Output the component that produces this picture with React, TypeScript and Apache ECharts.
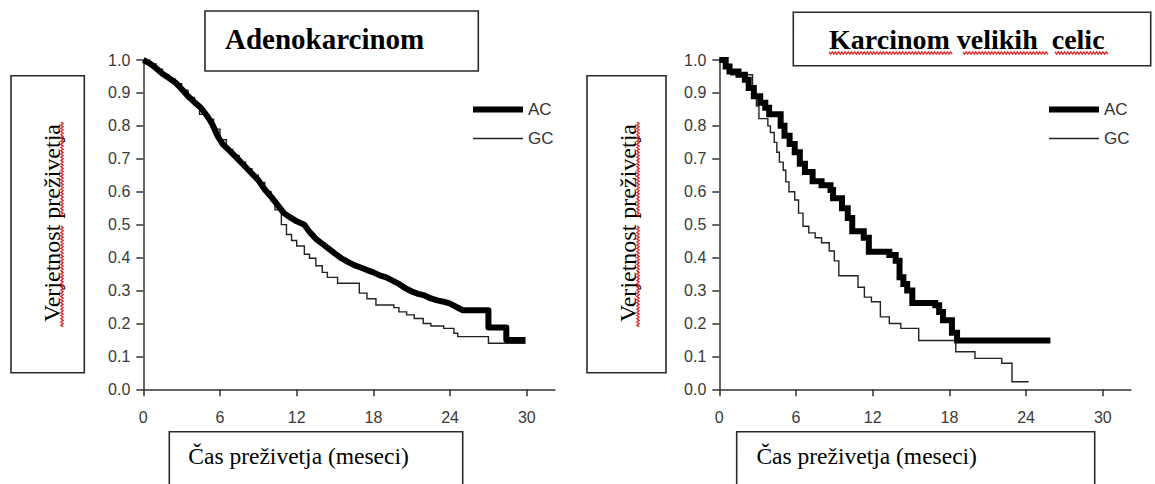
import React, { useEffect, useRef } from 'react';
import * as echarts from 'echarts';

const xTicks = [0, 6, 12, 18, 24, 30];
const seriesNames = ['AC', 'GC'];
const chartTitles = ['Adenokarcinom', 'Karcinom velikih  celic'];
const yTitle = 'Verjetnost preživetja';
const xTitle = 'Čas preživetja (meseci)';

// Adenokarcinom panel (AC drawn as a continuous thick line, tail steps explicit)
const adenoAC: [number, number][] = [
  [0, 1.0], [0.5, 0.99], [1.0, 0.975], [1.5, 0.958], [2.0, 0.945], [2.5, 0.932], [3.0, 0.912],
  [3.5, 0.89], [4.0, 0.872], [4.5, 0.855], [5.0, 0.83], [5.4, 0.805], [5.8, 0.77], [6.2, 0.745],
  [6.6, 0.73], [7.0, 0.715], [7.5, 0.695], [8.0, 0.675], [8.5, 0.655], [9.0, 0.635], [9.5, 0.607],
  [10.0, 0.585], [10.5, 0.56], [11.0, 0.535], [11.5, 0.522], [12.0, 0.51], [12.6, 0.5], [13.0, 0.478],
  [13.5, 0.457], [14.0, 0.442], [14.5, 0.427], [15.0, 0.412], [15.5, 0.398], [16.0, 0.387],
  [16.5, 0.377], [17.0, 0.37], [17.5, 0.362], [18.0, 0.355], [18.5, 0.346], [19.0, 0.34],
  [19.5, 0.33], [20.0, 0.32], [20.5, 0.307], [21.0, 0.297], [21.5, 0.29], [22.0, 0.285],
  [22.5, 0.276], [23.0, 0.27], [23.5, 0.266], [24.0, 0.26], [24.5, 0.25], [25.0, 0.24],
  [27.0, 0.24], [27.0, 0.188], [28.4, 0.188], [28.4, 0.15], [29.9, 0.15],
];
const adenoGC: [number, number][] = [
  [0, 1.0], [0.5, 0.988], [1.0, 0.972], [1.5, 0.955], [2.0, 0.942], [2.5, 0.928], [3.0, 0.908],
  [3.5, 0.886], [4.0, 0.866], [4.4, 0.835], [5.0, 0.82], [5.5, 0.79], [6.0, 0.758], [6.5, 0.728],
  [7.0, 0.71], [7.5, 0.69], [8.0, 0.67], [8.5, 0.65], [9.0, 0.628], [9.5, 0.6], [10.0, 0.572],
  [10.3, 0.545], [10.8, 0.5], [11.2, 0.47], [11.6, 0.452], [12.0, 0.435], [12.6, 0.41], [13.0, 0.398],
  [13.5, 0.375], [14.0, 0.355], [14.4, 0.34], [15.2, 0.322], [16.9, 0.292], [17.5, 0.275],
  [18.2, 0.256], [19.6, 0.248], [20.0, 0.235], [20.6, 0.226], [21.2, 0.215], [21.9, 0.2],
  [22.5, 0.192], [23.5, 0.185], [24.3, 0.17], [24.6, 0.16], [27.0, 0.14], [29.9, 0.14],
];

// Karcinom velikih celic panel (Kaplan-Meier steps)
const largeAC: [number, number][] = [
  [0, 1.0], [0.5, 0.98], [0.8, 0.965], [1.5, 0.955], [2.0, 0.94], [2.3, 0.915], [2.7, 0.89],
  [3.2, 0.87], [3.6, 0.855], [3.9, 0.835], [4.8, 0.8], [5.1, 0.77], [5.5, 0.745], [5.9, 0.72],
  [6.3, 0.685], [6.7, 0.66], [7.3, 0.632], [8.0, 0.62], [8.7, 0.605], [8.9, 0.58], [9.6, 0.55],
  [10.05, 0.52], [10.4, 0.48], [11.3, 0.46], [11.7, 0.418], [13.3, 0.408], [13.8, 0.39],
  [14.1, 0.34], [14.4, 0.32], [14.7, 0.3], [15.1, 0.262], [16.9, 0.255], [17.2, 0.235],
  [17.5, 0.21], [18.2, 0.172], [18.6, 0.148], [25.9, 0.148],
];
const largeGC: [number, number][] = [
  [0, 1.0], [0.45, 0.978], [0.9, 0.955], [2.6, 0.9], [2.9, 0.86], [3.1, 0.822], [3.8, 0.8],
  [4.0, 0.78], [4.3, 0.75], [4.5, 0.72], [4.7, 0.69], [5.0, 0.665], [5.2, 0.63], [5.45, 0.6],
  [5.9, 0.575], [6.2, 0.535], [6.55, 0.495], [7.0, 0.475], [7.5, 0.46], [8.0, 0.445], [8.6, 0.42],
  [9.0, 0.39], [9.35, 0.345], [10.85, 0.31], [11.35, 0.28], [11.9, 0.266], [12.6, 0.22],
  [13.3, 0.2], [14.2, 0.185], [15.6, 0.148], [18.5, 0.114], [20.0, 0.094], [22.1, 0.079],
  [22.9, 0.023], [24.2, 0.023],
];

const SERIF = "'Liberation Serif', 'Times New Roman', serif";
const SANS = "'Liberation Sans', Arial, sans-serif";

function wavyH(x1: number, x2: number, y: number) {
  const pts: number[][] = [];
  let k = 0;
  for (let x = x1; x <= x2; x += 1.6) {
    pts.push([x, y + (k % 2 === 0 ? -1.1 : 1.1)]);
    k++;
  }
  return { type: 'polyline', shape: { points: pts }, style: { stroke: '#e02020', lineWidth: 1.3, fill: null }, silent: true };
}
function wavyV(y1: number, y2: number, x: number) {
  const pts: number[][] = [];
  let k = 0;
  for (let y = y1; y <= y2; y += 1.6) {
    pts.push([x + (k % 2 === 0 ? -1.1 : 1.1), y]);
    k++;
  }
  return { type: 'polyline', shape: { points: pts }, style: { stroke: '#e02020', lineWidth: 1.3, fill: null }, silent: true };
}
function box(x1: number, y1: number, x2: number, y2: number) {
  return {
    type: 'rect',
    shape: { x: x1, y: y1, width: x2 - x1, height: y2 - y1 },
    style: { fill: '#fff', stroke: '#2a2a2a', lineWidth: 1.6 },
    silent: true,
  };
}
function label(text: string, x: number, y: number, size: number, bold: boolean, rot = 0, align = 'left') {
  return {
    type: 'text',
    x, y, rotation: rot,
    style: { text, font: `${bold ? 'bold ' : ''}${size}px ${SERIF}`, fill: '#000', align, verticalAlign: 'middle' },
    silent: true,
  };
}

export default function App() {
  const ref = useRef<HTMLDivElement>(null);
  useEffect(() => {
    if (!ref.current) return;
    const chart = echarts.init(ref.current, undefined, { renderer: 'svg' });
    const gridW = 411.6;
    const lefts = [143.3, 719.3];
    const xAxis = lefts.map((_, i) => ({
      type: 'value', gridIndex: i, min: 0, max: 32.2,
      axisLine: { lineStyle: { color: '#333', width: 1.5 } },
      axisTick: { customValues: xTicks, length: 7, lineStyle: { color: '#333', width: 1.5 } },
      axisLabel: { customValues: xTicks, margin: 20, fontSize: 16, color: '#3a3a3a', fontFamily: SANS },
      splitLine: { show: false },
    }));
    const yAxis = lefts.map((_, i) => ({
      type: 'value', gridIndex: i, min: 0, max: 1, interval: 0.1,
      axisLine: { show: true, lineStyle: { color: '#333', width: 1.5 } },
      axisTick: { show: true, length: 7, lineStyle: { color: '#333', width: 1.5 } },
      axisLabel: { margin: 13, fontSize: 16, color: '#3a3a3a', fontFamily: SANS, formatter: (v: number) => v.toFixed(1) },
      splitLine: { show: false },
    }));
    const panels = [[adenoAC, adenoGC], [largeAC, largeGC]];
    const series: any[] = [];
    panels.forEach((p, i) => {
      series.push({
        name: seriesNames[1], type: 'line', step: 'end', xAxisIndex: i, yAxisIndex: i, data: p[1],
        symbol: 'none', itemStyle: { color: '#222' },
        lineStyle: { color: '#222', width: 1.4, join: 'miter' }, z: 2,
      });
      series.push({
        name: seriesNames[0], type: 'line', step: i === 0 ? false : 'end', xAxisIndex: i, yAxisIndex: i, data: p[0],
        symbol: 'none', itemStyle: { color: '#000' },
        lineStyle: { color: '#000', width: 6, join: i === 0 ? 'round' : 'miter' }, z: 3,
      });
    });
    const legend = [470, 1046].map((l) => ({
      left: l, top: 101, orient: 'vertical', itemWidth: 50, itemHeight: 14, itemGap: 12, padding: 0,
      data: seriesNames, selectedMode: false,
      itemStyle: { opacity: 0, borderWidth: 0 },
      lineStyle: { width: 'inherit' },
      textStyle: { fontSize: 17, color: '#333', fontFamily: SANS },
    }));
    const graphic: any[] = [
      box(205, 11, 478.3, 71),
      label(chartTitles[0], 225, 38.5, 29, true),
      box(793.3, 12.3, 1150.7, 65.7),
      label(chartTitles[1], 829, 39.5, 28, true),
      wavyH(829, 953, 53), wavyH(963, 1049, 53), wavyH(1055, 1108, 53),
      box(11, 75.7, 84.3, 372.7),
      label(yTitle, 52, 223, 24, false, Math.PI / 2, 'center'),
      wavyV(226, 327, 62), wavyV(122, 217, 62),
      box(587, 75.7, 666, 372.7),
      label(yTitle, 628, 223, 24, false, Math.PI / 2, 'center'),
      wavyV(226, 327, 638), wavyV(122, 217, 638),
      box(169.3, 431.7, 462.7, 492),
      label(xTitle, 188.3, 455.5, 23.5, false),
      box(736.7, 431.7, 1094.7, 492),
      label(xTitle, 756.4, 455.5, 23.5, false),
    ];
    chart.setOption({
      animation: false,
      backgroundColor: '#fff',
      grid: lefts.map((l) => ({ left: l, top: 60, width: gridW, height: 329.3 })),
      xAxis, yAxis, series, legend, graphic,
    });
    return () => chart.dispose();
  }, []);
  return <div ref={ref} style={{ position: 'fixed', left: 0, top: 0, width: 1155, height: 484 }} />;
}
